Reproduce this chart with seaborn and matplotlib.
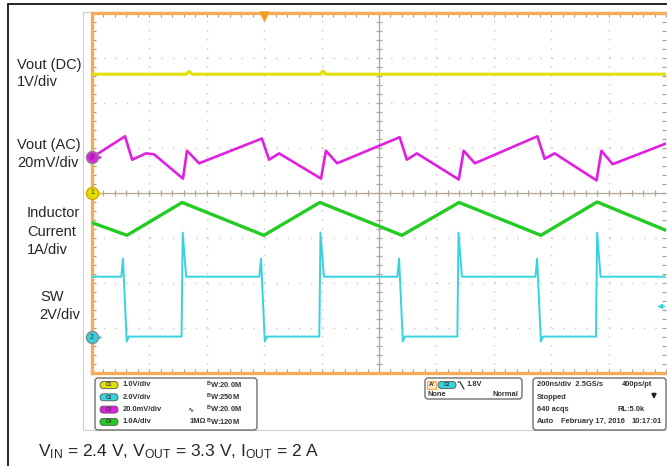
import numpy as np
import matplotlib
matplotlib.use("Agg")
import matplotlib.pyplot as plt
import seaborn as sns
from matplotlib.ticker import MultipleLocator
from matplotlib.patches import FancyBboxPatch, Rectangle
from matplotlib.collections import LineCollection

# time in ns (200 ns/div, centre = 0), levels in screen divisions (8 div high)
vdc_t = [-1000, -672, -662, -650, -205, -195, -185, 1000]
vdc_v = [2.64, 2.64, 2.70, 2.64, 2.64, 2.71, 2.64, 2.64]

vac_t = [-1000, -885, -860, -812, -784, -683, -669, -627, -408, -383, -348, -202, -185, -146,
         72, 97, 132, 278, 295, 334, 552, 577, 612, 758, 775, 814, 1000]
vac_v = [0.79, 1.26, 0.74, 0.88, 0.86, 0.32, 0.94, 0.66, 1.21, 0.74, 0.88, 0.32, 0.94, 0.66,
         1.24, 0.74, 0.88, 0.30, 0.94, 0.66, 1.26, 0.76, 0.88, 0.28, 0.94, 0.64, 1.10]

il_t = [-1000, -878, -686, -401, -206, 80, 279, 564, 760, 1000]
il_v = [-0.66, -0.94, -0.21, -0.94, -0.21, -0.94, -0.21, -0.94, -0.20, -0.83]

sw_t = [-1000, -898, -892, -879, -872, -688, -684, -672, -417, -411, -398, -391, -208, -204, -192,
        64, 70, 83, 90, 273, 277, 289, 545, 551, 564, 571, 756, 760, 772, 1000]
sw_v = [-1.86, -1.86, -1.46, -3.30, -3.19, -3.19, -0.88, -1.86, -1.86, -1.46, -3.30, -3.19, -3.19, -0.88, -1.86,
        -1.86, -1.46, -3.30, -3.19, -3.19, -0.88, -1.86, -1.86, -1.46, -3.30, -3.19, -3.19, -0.88, -1.86, -1.86]

# channel ground markers (divisions) and trigger
ch_names = ['1', '3', '2']
ch_levels = [0.0, 0.79, -3.21]
trig_t = -400
trig_level = -2.52

labels = [("Vout (DC)", 17, 65), ("1V/div", 17, 82),
          ("Vout (AC)", 17, 145), ("20mV/div", 17, 163),
          ("Inductor", 27, 213), ("Current", 27, 232), ("1A/div", 27, 250),
          ("SW", 40, 297), ("2V/div", 39, 315)]

ch_rows = [("C1", "1.0V/div", "", "20.0M"),
           ("C2", "2.0V/div", "", "250M"),
           ("C3", "20.0mV/div", "\u223f", "20.0M"),
           ("C4", "1.0A/div", "1M\u03a9", "120M")]

acq_left = ["200ns/div  2.5GS/s", "Stopped", "640 acqs", "Auto"]
acq_right = ["400ps/pt", "", "RL:5.0k", "10:17:01"]
acq_right_x = [622, 0, 617, 632]
acq_date = "February 17, 2016"

YEL = '#e2e000'
MAG = '#e020e0'
GRN = '#22cc22'
CYN = '#36d3de'
ORG = '#f5ad5a'
TXT = '#333333'

sns.set_style("white")
plt.rcParams['font.family'] = ['Liberation Sans', 'DejaVu Sans']
plt.rcParams['mathtext.default'] = 'regular'
plt.rcParams['lines.scale_dashes'] = False

W, H = 667, 466
fig = plt.figure(figsize=(W / 100, H / 100), dpi=100)

# background layer in pixel coords
bg = fig.add_axes([0, 0, 1, 1])
bg.set_xlim(0, W)
bg.set_ylim(H, 0)
bg.axis('off')
bg.plot([8, 8], [4, H], color='black', lw=1.2)
bg.plot([8, W], [4, 4], color='black', lw=1.2)
bg.add_patch(Rectangle((83, 12), 600, 418, fill=False, ec='#cfcfcf', lw=0.8))

for txt, x, y in labels:
    bg.text(x, y, txt, fontsize=10.5, va='center', ha='left')

bg.text(38, 452, r"V$_{IN}$ = 2.4 V, V$_{OUT}$ = 3.3 V, I$_{OUT}$ = 2 A",
        fontsize=12.5, va='center', ha='left')

# info panel
box_kw = dict(boxstyle="round,pad=0,rounding_size=3", fc='white', ec='#6e6e6e', lw=1.0)
bg.add_patch(FancyBboxPatch((95, 378), 162, 52, **box_kw))
bg.add_patch(FancyBboxPatch((425, 378), 97, 21, **box_kw))
bg.add_patch(FancyBboxPatch((533, 378), 133, 52, **box_kw))

pill_cols = [YEL, CYN, MAG, GRN]
fs_i = 5.4
for i, (c, vdiv, extra, bw) in enumerate(ch_rows):
    y = 385 + i * 12.3
    bg.add_patch(FancyBboxPatch((100, y - 3.5), 18, 7, boxstyle="round,pad=0,rounding_size=3.5",
                                fc=pill_cols[i], ec='#555555', lw=0.6))
    bg.text(109, y, c, fontsize=3.5, ha='center', va='center', color=TXT, fontweight='bold')
    bg.text(123, y, vdiv, fontsize=fs_i, ha='left', va='center', fontweight='bold', color=TXT)
    if extra:
        bg.text(190 if extra != "\u223f" else 187, y, extra, fontsize=fs_i, ha='left', va='center',
                fontweight='bold', color=TXT)
    bg.text(206, y, r"$^{B}$W:" + bw, fontsize=fs_i, ha='left', va='center',
            fontweight='bold', color=TXT)

# trigger box
bg.add_patch(Rectangle((427, 381), 9, 8, fc='#fbe3c3', ec=ORG, lw=0.8))
bg.text(431.5, 385, "A'", fontsize=4.5, ha='center', va='center', fontweight='bold')
bg.add_patch(FancyBboxPatch((438, 381.5), 18, 7, boxstyle="round,pad=0,rounding_size=3.5",
                            fc=CYN, ec='#555555', lw=0.6))
bg.text(447, 385, "C2", fontsize=3.5, ha='center', va='center', color=TXT, fontweight='bold')
bg.plot([458, 460, 464], [382, 382, 389], color=TXT, lw=0.9)
bg.text(467, 385, "1.8V", fontsize=fs_i, ha='left', va='center', fontweight='bold', color=TXT)
bg.text(428, 395, "None", fontsize=fs_i, ha='left', va='center', fontweight='bold', color=TXT)
bg.text(518, 395, "Normal", fontsize=fs_i, ha='right', va='center', fontweight='bold', color=TXT)

# acquisition box
for i in range(4):
    y = 385 + i * 12.3
    bg.text(537, y, acq_left[i], fontsize=fs_i, ha='left', va='center', fontweight='bold', color=TXT)
    if acq_right[i]:
        bg.text(acq_right_x[i], y, acq_right[i], fontsize=fs_i, ha='left', va='center',
                fontweight='bold', color=TXT)
bg.text(561, 385 + 3 * 12.3, acq_date, fontsize=fs_i, ha='left', va='center', fontweight='bold', color=TXT)
bg.annotate('', xy=(654, 402), xytext=(654, 391),
            arrowprops=dict(arrowstyle='-|>', color='#222222', lw=1.4, mutation_scale=6))

# scope screen
ax = fig.add_axes([92 / W, 1 - 373 / H, 574 / W, 360 / H])
ax.set_xlim(-1000, 1000)
ax.set_ylim(-4, 4)
ax.xaxis.set_major_locator(MultipleLocator(200))
ax.xaxis.set_minor_locator(MultipleLocator(40))
ax.yaxis.set_major_locator(MultipleLocator(1))
ax.yaxis.set_minor_locator(MultipleLocator(0.2))
ax.tick_params(which='both', direction='in', top=True, right=True, left=True, bottom=True,
               length=3, width=0.8, color='#9e9890', labelleft=False, labelbottom=False)
ax.set_xlabel('')
ax.set_ylabel('')

for xv in range(-800, 1000, 200):
    if xv != 0:
        ax.axvline(xv, color='#c8c8c8', lw=1.0, ls=(0, (1.0, 5.48)), zorder=0)
for yv in [-3, -2, -1, 1, 2, 3]:
    ax.axhline(yv, color='#c8c8c8', lw=1.0, ls=(0, (1.0, 7.27)), zorder=0)

ax.axvline(0, color='#b0a79a', lw=0.9, zorder=0)
ax.axhline(0, color='#b0a79a', lw=0.9, zorder=0)
segs = [[(x, -0.07), (x, 0.07)] for x in np.arange(-960, 1000, 40)]
segs += [[(-11, y), (11, y)] for y in np.arange(-3.8, 4.0, 0.2)]
ax.add_collection(LineCollection(segs, colors='#b0a79a', lw=0.9, zorder=0))

for s in ['left', 'top', 'bottom']:
    ax.spines[s].set_color(ORG)
    ax.spines[s].set_linewidth(2.4)
ax.spines['right'].set_visible(False)

sns.lineplot(x=vdc_t, y=vdc_v, ax=ax, color=YEL, lw=2.2, zorder=3)
sns.lineplot(x=vac_t, y=vac_v, ax=ax, color=MAG, lw=1.9, zorder=3)
sns.lineplot(x=il_t, y=il_v, ax=ax, color=GRN, lw=2.4, zorder=3)
sns.lineplot(x=sw_t, y=sw_v, ax=ax, color=CYN, lw=1.4, zorder=3)

mk_fill = [YEL, MAG, CYN]
mk_edge = ['#e0a000', '#888888', '#888888']
for name, lvl, fc, ec in zip(ch_names, ch_levels, mk_fill, mk_edge):
    ax.scatter([-978], [lvl], marker='>', s=14, color=fc, clip_on=False, zorder=6)
    ax.scatter([-1000], [lvl], s=75, color=fc, edgecolor=ec, lw=1.0, clip_on=False, zorder=7)
    ax.text(-1000, lvl, name, fontsize=5, ha='center', va='center', color=TXT, zorder=8)

ax.scatter([trig_t], [3.93], marker='v', s=40, color='#f59a23', clip_on=False, zorder=6)
ax.annotate('', xy=(960, trig_level), xytext=(1005, trig_level), annotation_clip=False,
            arrowprops=dict(arrowstyle='-|>', color=CYN, lw=1.0, mutation_scale=7))

fig.savefig('out.png', dpi=100)
